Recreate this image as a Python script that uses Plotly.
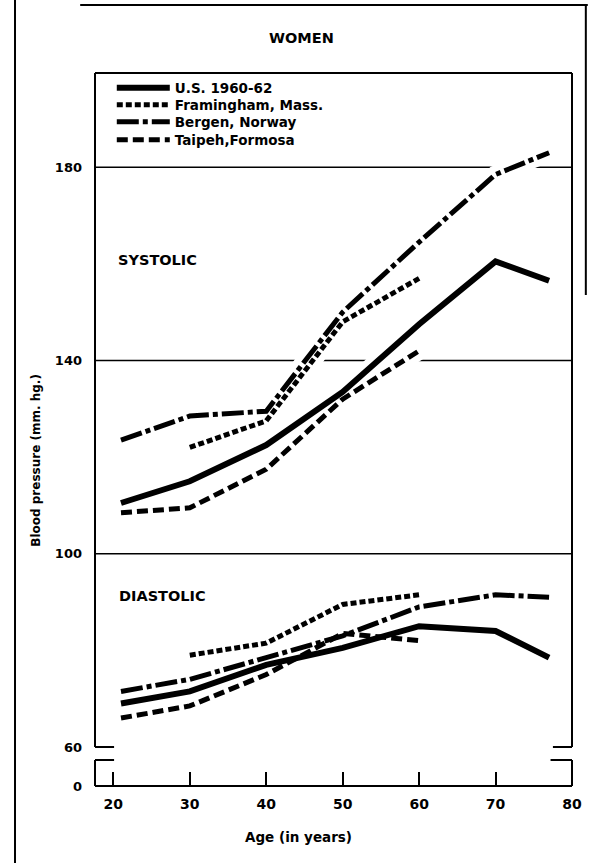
import plotly.graph_objects as go

# ---------------- data ----------------
AGES = [21, 30, 40, 50, 60, 70, 77]
FRAMINGHAM_AGES = [30, 40, 50, 60]
TAIPEH_AGES = [21, 30, 40, 50, 60]

US_SYSTOLIC = [110.5, 115.0, 122.5, 133.5, 147.5, 160.5, 156.5]
FRAMINGHAM_SYSTOLIC = [122.0, 127.5, 148.0, 157.0]
BERGEN_SYSTOLIC = [123.5, 128.5, 129.5, 150.0, 164.5, 178.5, 183.0]
TAIPEH_SYSTOLIC = [108.5, 109.5, 117.5, 132.0, 142.0]

US_DIASTOLIC = [69.0, 71.5, 77.0, 80.5, 85.0, 84.0, 78.5]
FRAMINGHAM_DIASTOLIC = [79.0, 81.5, 89.5, 91.5]
BERGEN_DIASTOLIC = [71.5, 74.0, 78.5, 83.0, 89.0, 91.5, 91.0]
TAIPEH_DIASTOLIC = [66.0, 68.5, 75.0, 83.5, 82.0]

SERIES_NAMES = ["U.S. 1960-62", "Framingham, Mass.", "Bergen, Norway", "Taipeh,Formosa"]
X_TICKS = [20, 30, 40, 50, 60, 70, 80]
Y_TICKS_UPPER = [60, 100, 140, 180]
Y_TICKS_LOWER = [0]
GRID_VALUES = [100, 140, 180]

# ---------------- layout geometry ----------------
W, H = 594, 863
L, R, T, B = 95, 16, 73, 77
PW, PH = W - L - R, H - T - B


def fx(px):
    return (px - L) / PW


def fy(py):
    return (H - B - py) / PH


FONT = "DejaVu Sans, Verdana, sans-serif"
bold = dict(family=FONT, color="black", weight="bold")

LEGEND_IDS = ["legend", "legend2", "legend3", "legend4"]
LEGEND_ROWS_PX = [88, 105, 122, 140]

series = [
    (SERIES_NAMES[0], AGES, US_SYSTOLIC, US_DIASTOLIC, dict(dash="solid", width=6)),
    (SERIES_NAMES[1], FRAMINGHAM_AGES, FRAMINGHAM_SYSTOLIC, FRAMINGHAM_DIASTOLIC, dict(dash="6px,3px", width=5)),
    (SERIES_NAMES[2], AGES, BERGEN_SYSTOLIC, BERGEN_DIASTOLIC, dict(dash="22px,4px,5px,4px", width=5)),
    (SERIES_NAMES[3], TAIPEH_AGES, TAIPEH_SYSTOLIC, TAIPEH_DIASTOLIC, dict(dash="11px,5px", width=5)),
]

fig = go.Figure()

# white halos (make the gaps in the grid lines where curves cross them)
for name, ages, sysv, diav, st in series:
    for vals in (sysv, diav):
        fig.add_trace(go.Scatter(x=ages, y=vals, mode="lines", xaxis="x", yaxis="y",
                                 line=dict(color="white", width=18), showlegend=False,
                                 hoverinfo="skip"))

# black curves
for i, (name, ages, sysv, diav, st) in enumerate(series):
    ln = dict(color="black", width=st["width"], dash=st["dash"])
    fig.add_trace(go.Scatter(x=ages, y=sysv, mode="lines", name=name, legendgroup=name,
                             legend=LEGEND_IDS[i], xaxis="x", yaxis="y", line=ln))
    fig.add_trace(go.Scatter(x=ages, y=diav, mode="lines", name=name, legendgroup=name,
                             legend=LEGEND_IDS[i], showlegend=False, xaxis="x", yaxis="y", line=ln))

# empty trace so that the lower (broken-axis) panel is drawn
fig.add_trace(go.Scatter(x=[None], y=[None], mode="lines", xaxis="x2", yaxis="y2",
                         showlegend=False, hoverinfo="skip"))

shapes = []
# grid lines of upper panel
for g in GRID_VALUES:
    shapes.append(dict(type="line", xref="x domain", yref="y", x0=0, x1=1, y0=g, y1=g,
                       line=dict(color="black", width=1.5), layer="below"))

frame = dict(color="black", width=2)
# upper panel frame with bracket stubs at the break
for (x0, y0, x1, y1) in [(0, 0, 0, 1), (1, 0, 1, 1), (0, 1, 1, 1), (0, 0, 0.04, 0), (0.96, 0, 1, 0)]:
    shapes.append(dict(type="line", xref="x domain", yref="y domain",
                       x0=x0, y0=y0, x1=x1, y1=y1, line=frame))
# lower panel frame
for (x0, y0, x1, y1) in [(0, 0, 0, 1), (1, 0, 1, 1), (0, 0, 1, 0), (0, 1, 0.04, 1), (0.955, 1, 1, 1)]:
    shapes.append(dict(type="line", xref="x2 domain", yref="y2 domain",
                       x0=x0, y0=y0, x1=x1, y1=y1, line=frame))
# scan page border
border = dict(color="black", width=2)
shapes.append(dict(type="line", xref="paper", yref="paper", x0=fx(14), x1=fx(14), y0=fy(0), y1=fy(863), line=border))
shapes.append(dict(type="line", xref="paper", yref="paper", x0=fx(80), x1=fx(594), y0=fy(5), y1=fy(5), line=border))
shapes.append(dict(type="line", xref="paper", yref="paper", x0=fx(592), x1=fx(592), y0=fy(5), y1=fy(295), line=border))


def label(text, px, py, size, angle=0):
    return dict(text=text, x=fx(px), y=fy(py), xref="paper", yref="paper", showarrow=False,
                xanchor="center", yanchor="middle", textangle=angle,
                font=dict(size=size, **bold))


annotations = [
    label("WOMEN", 304, 38, 14.5),
    label("SYSTOLIC", 158, 260, 14.5),
    label("DIASTOLIC", 163, 596, 14.5),
    label("Blood pressure (mm. hg.)", 35, 460, 12, -90),
    label("Age (in years)", 301, 837, 13.5),
]

legends = {}
for lid, row in zip(LEGEND_IDS, LEGEND_ROWS_PX):
    legends[lid] = dict(x=fx(112), y=fy(row), xanchor="left", yanchor="middle",
                        bgcolor="rgba(0,0,0,0)", font=dict(size=13.5, **bold),
                        itemwidth=53, tracegroupgap=0)

XRANGE = [17.6, 80]

fig.update_layout(
    width=W, height=H,
    margin=dict(l=L, r=R, t=T, b=B),
    paper_bgcolor="white", plot_bgcolor="white",
    showlegend=True,
    xaxis=dict(domain=[0, 1], anchor="y", range=XRANGE, showgrid=False, zeroline=False,
               showline=False, showticklabels=False, ticks=""),
    yaxis=dict(domain=[fy(747), 1], anchor="x", range=[60, 199.5], tickvals=Y_TICKS_UPPER,
               showgrid=False, zeroline=False, showline=False, ticks="",
               ticklabelstandoff=12, tickfont=dict(size=13, **bold)),
    xaxis2=dict(domain=[0, 1], anchor="y2", range=XRANGE, tickvals=X_TICKS, showgrid=False,
                zeroline=False, showline=False, ticks="inside", ticklen=14, tickwidth=2,
                tickcolor="black", ticklabelstandoff=8, tickfont=dict(size=14, **bold)),
    yaxis2=dict(domain=[0, fy(760)], anchor="x2", range=[0, 5], tickvals=Y_TICKS_LOWER,
                showgrid=False, zeroline=False, showline=False, ticks="",
                ticklabelstandoff=12, tickfont=dict(size=13, **bold)),
    shapes=shapes,
    annotations=annotations,
    **legends,
)

fig.write_html("out.html",
               config={"displayModeBar": False, "staticPlot": True},
               post_script="document.body.style.margin='0';document.body.style.padding='0';")
